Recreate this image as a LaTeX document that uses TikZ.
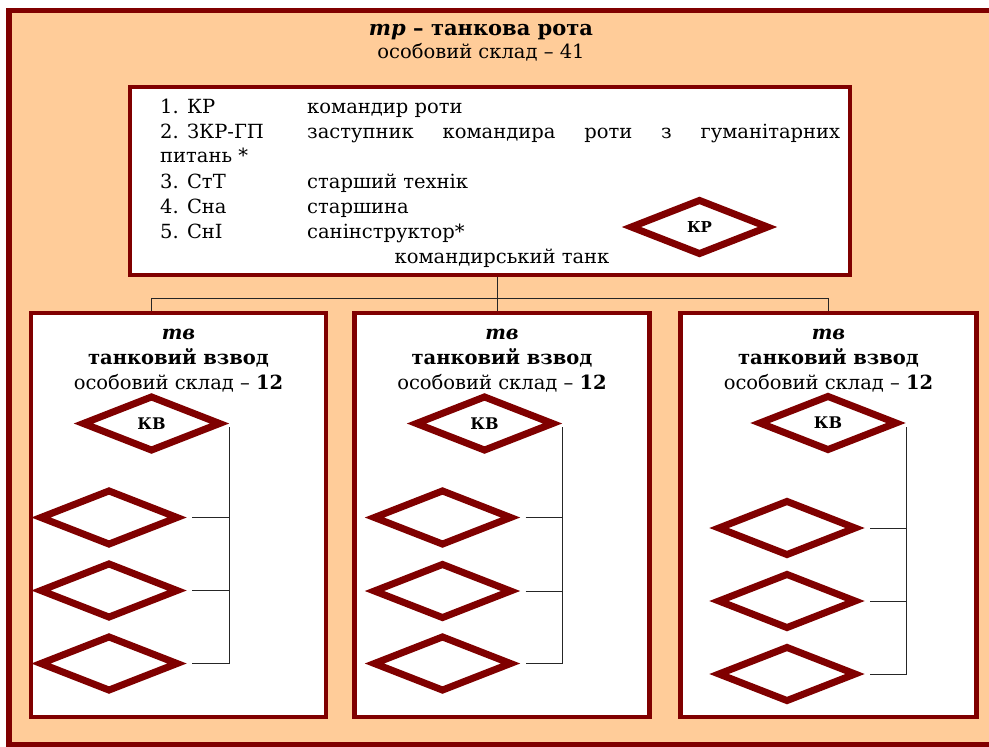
\documentclass[tikz,border=0pt]{standalone}
\usepackage{fontspec}
\setmainfont{DejaVu Serif}
\usepackage{tikz}
\usetikzlibrary{shapes.geometric,positioning,calc}
\definecolor{rotared}{RGB}{128,0,0}
\definecolor{rotapeach}{RGB}{255,204,153}

\begin{document}
\begin{tikzpicture}[x=1pt, y=-1pt,
    unitbox/.style={rectangle, draw=rotared, fill=white, line width=4.5pt, inner sep=0pt},
    tankd/.style={diamond, draw=rotared, fill=white, line width=7pt, inner sep=0pt,
        minimum width=139pt, minimum height=56pt, font=\bfseries\fontsize{16}{16}\selectfont},
    link/.style={draw=black!85, line width=1pt},
    roster/.style={anchor=base west, inner sep=0pt, font=\fontsize{19.5}{20}\selectfont},
    unitlabel/.style={align=center, inner sep=0pt, font=\fontsize{19.5}{25}\selectfont}
]
\clip (0,0) rectangle (989,747);
\fill[rotapeach] (6,8) rectangle (995,747);
\draw[rotared, line width=5.5pt] (9,10.5) rectangle (1000,745);

% company
\node[align=center, inner sep=0pt, font=\fontsize{19.5}{23}\selectfont] (title) at (481,42.5)
    {{\fontsize{21}{23}\selectfont\textbf{\textit{тр} – танкова рота}}\\особовий склад – 41};
\node[unitbox, minimum width=720pt, minimum height=188pt] (company) at (490,181) {};
\node[roster] (r1) at (160,113) {1. КР};
\node[roster] (r1d) at (307,113) {командир роти};
\node[roster] (r2) at (160,138) {2. ЗКР-ГП};
\node[roster] (r2d) at (307,138) {\makebox[533pt][s]{заступник командира роти з гуманітарних}};
\node[roster] (r2c) at (160,162) {питань *};
\node[roster] (r3) at (160,188) {3. СтТ};
\node[roster] (r3d) at (307,188) {старший технік};
\node[roster] (r4) at (160,213) {4. Сна};
\node[roster] (r4d) at (307,213) {старшина};
\node[roster] (r5) at (160,238) {5. СнІ};
\node[roster] (r5d) at (307,238) {санінструктор*};
\node[roster, anchor=base] (cmdtank) at (502,263) {командирський танк};
\node[tankd, font=\bfseries\fontsize{15}{15}\selectfont] (kr) at (699.5,227) {КР};

% platoons
\node[unitbox, minimum width=295pt, minimum height=404pt] (pl1) at (178.5,515) {};
\node[unitbox, minimum width=295pt, minimum height=404pt] (pl2) at (502,515) {};
\node[unitbox, minimum width=296pt, minimum height=404pt] (pl3) at (828.5,515) {};
\node[unitlabel] (pl1txt) at (178.5,360.5) {\textbf{\textit{тв}}\\\textbf{танковий взвод}\\особовий склад – \textbf{12}};
\node[unitlabel] (pl2txt) at (502,360.5) {\textbf{\textit{тв}}\\\textbf{танковий взвод}\\особовий склад – \textbf{12}};
\node[unitlabel] (pl3txt) at (828.5,360.5) {\textbf{\textit{тв}}\\\textbf{танковий взвод}\\особовий склад – \textbf{12}};

\coordinate (busl) at (151,298);
\coordinate (busm) at (497,298);
\coordinate (busr) at (828,298);
\draw[link] (busm |- company.south) -- (busm |- pl2.north);
\draw[link] (busl |- pl1.north) -- (busl) -- (busr) -- (busr |- pl3.north);

% first platoon
\node[tankd] (kv1) at (151.5,423.5) {КВ};
\node[tankd] (t11) at (109,517.5) {};
\node[tankd] (t12) at (109,590.5) {};
\node[tankd] (t13) at (109,663.5) {};
\coordinate (bus1) at (229,427);
\draw[link] (bus1) |- ([xshift=10pt]t13.east);
\draw[link] ([xshift=10pt]t11.east) -- (t11 -| bus1);
\draw[link] ([xshift=10pt]t12.east) -- (t12 -| bus1);

% second platoon
\node[tankd] (kv2) at (484.5,423.5) {КВ};
\node[tankd] (t21) at (442.5,517.5) {};
\node[tankd] (t22) at (442.5,591) {};
\node[tankd] (t23) at (442.5,663.5) {};
\coordinate (bus2) at (562,427);
\draw[link] (bus2) |- ([xshift=10pt]t23.east);
\draw[link] ([xshift=10pt]t21.east) -- (t21 -| bus2);
\draw[link] ([xshift=10pt]t22.east) -- (t22 -| bus2);

% third platoon
\node[tankd] (kv3) at (828,423) {КВ};
\node[tankd] (t31) at (787,528) {};
\node[tankd] (t32) at (787,601) {};
\node[tankd] (t33) at (787,674) {};
\coordinate (bus3) at (906,427);
\draw[link] (bus3) |- ([xshift=10pt]t33.east);
\draw[link] ([xshift=10pt]t31.east) -- (t31 -| bus3);
\draw[link] ([xshift=10pt]t32.east) -- (t32 -| bus3);
\end{tikzpicture}
\end{document}
